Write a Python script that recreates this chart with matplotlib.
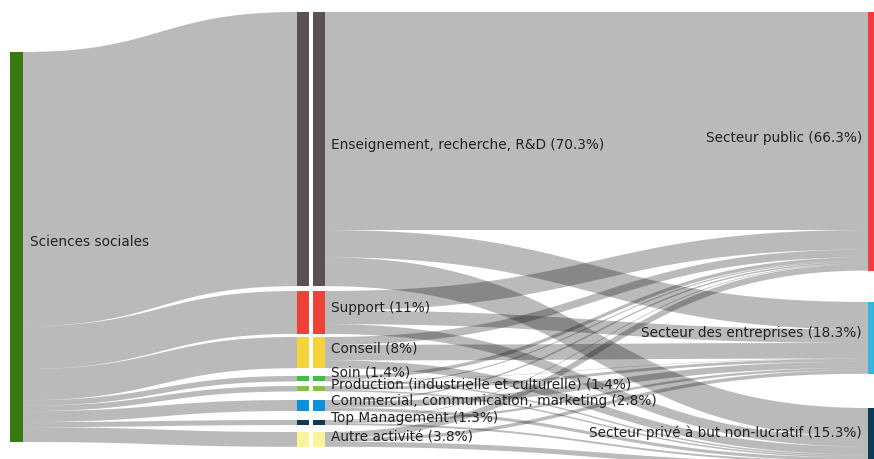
import numpy as np
import matplotlib
matplotlib.use("Agg")
import matplotlib.pyplot as plt
from matplotlib.patches import Rectangle

# ---------------- data ----------------
source_name = "Sciences sociales"
activities = ["Enseignement, recherche, R&D", "Support", "Conseil", "Soin",
              "Production (industrielle et culturelle)",
              "Commercial, communication, marketing", "Top Management",
              "Autre activité"]
activity_share = [70.3, 11, 8, 1.4, 1.4, 2.8, 1.3, 3.8]
sectors = ["Secteur public", "Secteur des entreprises",
           "Secteur privé à but non-lucratif"]
sector_share = [66.3, 18.3, 15.3]
# flows activity -> sector (in % of total)
to_public = [55.9, 5.0, 2.0, 0.9, 0.3, 0.4, 0.2, 1.6]
to_entreprises = [7.0, 3.5, 4.0, 0.1, 0.7, 1.6, 0.6, 0.9]
to_nonlucratif = [7.4, 2.5, 2.0, 0.4, 0.4, 0.8, 0.5, 1.3]

# ---------------- layout / style ----------------
W, H = 874, 459
SCALE = 3.9                     # pixels per percent
src_x = (10, 23)
mid1_x = (297, 309)
mid2_x = (313, 325)
dst_x = (868, 874)
src_top = 52
mid_tops = [12, 291, 337, 376, 386, 400, 420, 432]
dst_tops = [12, 302, 408]
src_color = "#35790f"
act_colors = ["#5b5155", "#ee4236", "#f5d33a", "#41bd45", "#80c241",
              "#0f8fd6", "#0d3b55", "#fcf29a"]
dst_colors = ["#f53b3b", "#35b6dc", "#0d3b55"]
link_color = (0, 0, 0, 0.27)
text_color = "#222222"
FS = 9.8

fig = plt.figure(figsize=(W / 100, H / 100), dpi=100)
ax = fig.add_axes([0, 0, 1, 1])
ax.set_xlim(0, W)
ax.set_ylim(H, 0)
ax.axis("off")


def band(x0, x1, y0a, y0b, y1a, y1b):
    t = np.linspace(0, 1, 80)
    xm = (x0 + x1) / 2
    bx = (1 - t) ** 3 * x0 + 3 * (1 - t) ** 2 * t * xm + 3 * (1 - t) * t ** 2 * xm + t ** 3 * x1
    def by(ya, yb):
        return (1 - t) ** 3 * ya + 3 * (1 - t) ** 2 * t * ya + 3 * (1 - t) * t ** 2 * yb + t ** 3 * yb
    top = by(y0a, y1a)
    bot = by(y0b, y1b)
    xs = np.concatenate([bx, bx[::-1]])
    ys = np.concatenate([top, bot[::-1]])
    ax.fill(xs, ys, color=link_color, lw=0, zorder=1)


flows = [to_public, to_entreprises, to_nonlucratif]
act_tot = [sum(f[i] for f in flows) for i in range(len(activities))]
sec_tot = [sum(f) for f in flows]

# source -> activities
y = src_top
for i, v in enumerate(act_tot):
    h = v * SCALE
    band(src_x[1], mid1_x[0], y, y + h, mid_tops[i], mid_tops[i] + h)
    y += h

# activities -> sectors
dst_cursor = list(dst_tops)
for i in range(len(activities)):
    y = mid_tops[i]
    for j, f in enumerate(flows):
        h = f[i] * SCALE
        band(mid2_x[1], dst_x[0], y, y + h, dst_cursor[j], dst_cursor[j] + h)
        y += h
        dst_cursor[j] += h

# nodes
src_h = sum(act_tot) * SCALE
ax.add_patch(Rectangle((src_x[0], src_top), src_x[1] - src_x[0], src_h,
                       color=src_color, lw=0, zorder=3))
ax.text(30, src_top + src_h / 2 - 5, source_name, fontsize=FS, color=text_color,
        va="center", ha="left", zorder=5)

label_dy = [-4, -4, -4, -6, -4, -4, -5, -2]
for i, name in enumerate(activities):
    h = act_tot[i] * SCALE
    for xs in (mid1_x, mid2_x):
        ax.add_patch(Rectangle((xs[0], mid_tops[i]), xs[1] - xs[0], h,
                               color=act_colors[i], lw=0, zorder=3))
    ax.text(331, mid_tops[i] + h / 2 + label_dy[i], f"{name} ({activity_share[i]:g}%)",
            fontsize=FS, color=text_color, va="center", ha="left", zorder=5)

sector_dy = [-3, -5, -5]
for j, name in enumerate(sectors):
    h = sec_tot[j] * SCALE
    ax.add_patch(Rectangle((dst_x[0], dst_tops[j]), dst_x[1] - dst_x[0], h,
                           color=dst_colors[j], lw=0, zorder=3))
    ax.text(862, dst_tops[j] + h / 2 + sector_dy[j], f"{name} ({sector_share[j]:g}%)",
            fontsize=FS, color=text_color, va="center", ha="right", zorder=5)

fig.savefig("out.png", dpi=100)
